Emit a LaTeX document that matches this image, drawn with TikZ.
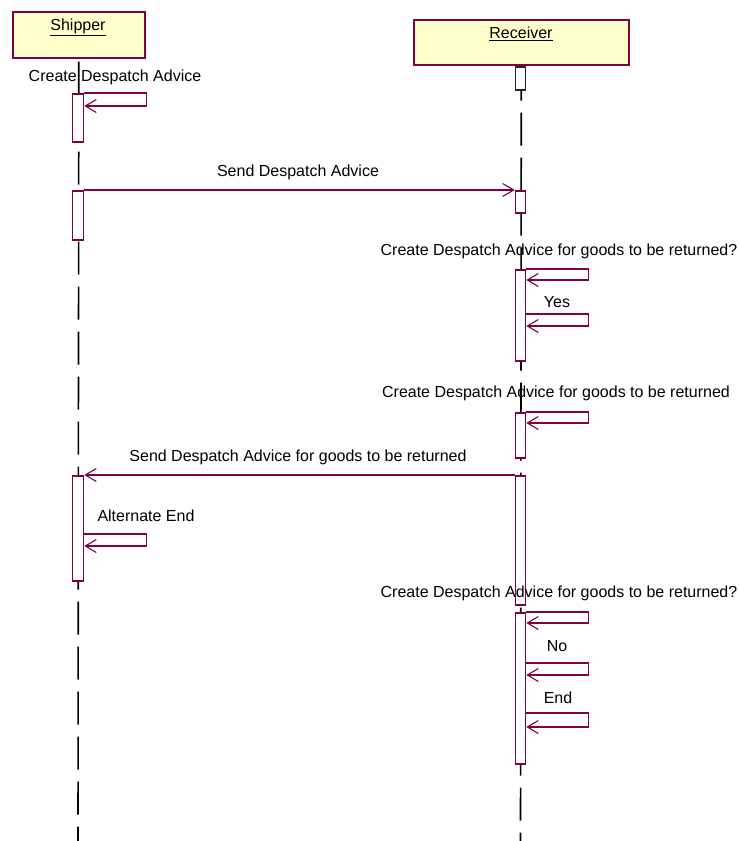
\documentclass[tikz,border=0pt]{standalone}
\usepackage{fontspec}
\setmainfont{Liberation Sans}
\usetikzlibrary{arrows.meta,calc}
\definecolor{umlred}{RGB}{128,0,64}
\definecolor{umlyellow}{RGB}{255,255,204}
\begin{document}
\begin{tikzpicture}[x=1pt,y=-1pt,
  objbox/.style={draw=umlred, fill=umlyellow, line width=1.6pt, anchor=north west, inner sep=0pt},
  actbox/.style={draw=umlred, fill=white, line width=1.5pt, anchor=north, inner sep=0pt},
  lifeline/.style={draw=black, line width=1.6pt, dash pattern=on 33pt off 12pt},
  msg/.style={draw=umlred, line width=1.5pt, -{Straight Barb[length=11pt,width=13pt,line width=1.1pt]}},
  lbl/.style={font=\fontsize{16}{19}\selectfont, inner sep=0pt},
]
\useasboundingbox (0,0) rectangle (739,841);

% objects
\node[objbox, minimum width=132pt, minimum height=46pt] (shipper) at (12,11) {};
\node[objbox, minimum width=215pt, minimum height=45pt] (receiver) at (413,19) {};
\node[lbl] (shipperlbl) at (78,27) {\underline{Shipper}};
\node[lbl] (receiverlbl) at (521,34) {\underline{Receiver}};

% lifeline ends
\coordinate (shipperend) at (78,841);
\coordinate (receiverend) at (520.5,841);
\draw[lifeline, dash phase=42pt] (shipper.south) -- (shipperend);
\draw[lifeline, dash phase=43pt] (receiver.south) -- (receiverend);

% activations on Shipper
\node[actbox, minimum width=11pt, minimum height=48pt] (s1) at (78,93) {};
\node[actbox, minimum width=11pt, minimum height=49pt] (s2) at (78,190) {};
\node[actbox, minimum width=11pt, minimum height=105pt] (s3) at (78,475) {};

% activations on Receiver
\node[actbox, draw=black!85, minimum width=10pt, minimum height=23pt] (a0) at (520.5,66) {};
\node[actbox, minimum width=10pt, minimum height=22pt] (a1) at (520.5,190) {};
\node[actbox, minimum width=10pt, minimum height=91pt] (a2) at (520.5,269) {};
\node[actbox, minimum width=10pt, minimum height=45pt] (a3) at (520.5,412) {};
\node[actbox, minimum width=10pt, minimum height=129pt] (a4) at (520.5,475) {};
\node[actbox, minimum width=10pt, minimum height=151pt] (a5) at (520.5,612) {};

% self messages
\draw[msg] (s1.north east) -- ++(62,0) -- ++(0,13) -- ++(-62,0);
\draw[msg] ($(s3.north east)+(0,59)$) -- ++(62,0) -- ++(0,12) -- ++(-62,0);
\draw[msg] (a2.north east) -- ++(62,0) -- ++(0,11) -- ++(-62,0);
\draw[msg] ($(a2.north east)+(0,45)$) -- ++(62,0) -- ++(0,12) -- ++(-62,0);
\draw[msg] (a3.north east) -- ++(62,0) -- ++(0,11) -- ++(-62,0);
\draw[msg] (a5.north east) -- ++(62,0) -- ++(0,11) -- ++(-62,0);
\draw[msg] ($(a5.north east)+(0,51)$) -- ++(62,0) -- ++(0,12) -- ++(-62,0);
\draw[msg] ($(a5.north east)+(0,101)$) -- ++(62,0) -- ++(0,14) -- ++(-62,0);

% messages between objects
\draw[msg] (s2.north east) -- (a1.north west);
\draw[msg] (a4.north west) -- (s3.north east);

% labels
\node[lbl] (l1) at (115,77) {Create Despatch Advice};
\node[lbl] (l2) at (298,172) {Send Despatch Advice};
\node[lbl] (l3) at (559,251) {Create Despatch Advice for goods to be returned?};
\node[lbl] (l4) at (557,302) {Yes};
\node[lbl] (l5) at (556,393) {Create Despatch Advice for goods to be returned};
\node[lbl] (l6) at (298,457) {Send Despatch Advice for goods to be returned};
\node[lbl] (l7) at (146,516) {Alternate End};
\node[lbl] (l8) at (559,593) {Create Despatch Advice for goods to be returned?};
\node[lbl] (l9) at (557,646) {No};
\node[lbl] (l10) at (558,698) {End};
\end{tikzpicture}
\end{document}
